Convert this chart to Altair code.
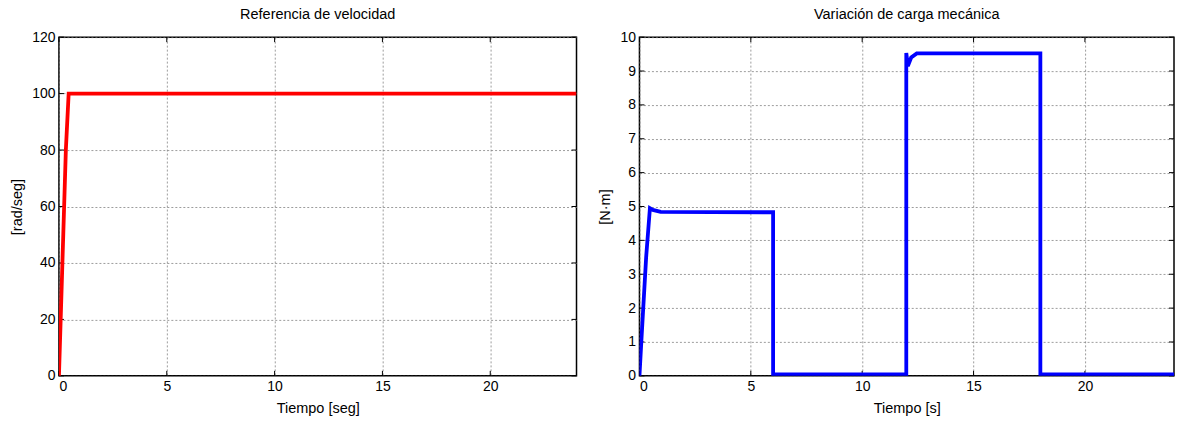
import altair as alt
import pandas as pd

FONT = "Liberation Sans"

# Left panel: speed reference
t_ref = [0, 0.08, 0.2, 0.32, 0.45, 24]
v_ref = [0, 20, 50, 80, 100, 100]

# Right panel: mechanical load
t_load = [0, 0.1, 0.3, 0.47, 0.6, 0.95, 6.0, 6.0, 11.98, 11.98, 12.05, 12.2, 12.45, 18.0, 18.0, 24]
v_load = [0, 1.2, 3.5, 4.95, 4.9, 4.84, 4.83, 0.04, 0.04, 9.53, 9.15, 9.4, 9.52, 9.52, 0.04, 0.04]

x_ticks = [0, 5, 10, 15, 20]
y_ticks_left = [0, 20, 40, 60, 80, 100, 120]
y_ticks_right = [0, 1, 2, 3, 4, 5, 6, 7, 8, 9, 10]

W1, W2, H = 518, 535, 339
TL = 5  # inward tick length


def panel(t, v, color, xmax, ymax, yticks, xtitle, ytitle, title, width):
    df = pd.DataFrame({"t": t, "v": v})
    xs = alt.Scale(domain=[0, xmax], nice=False, zero=False)
    ys = alt.Scale(domain=[0, ymax], nice=False, zero=False)
    xa = alt.Axis(values=x_ticks, tickSize=0, labelPadding=4, titlePadding=8,
                  grid=True, domain=False)
    ya = alt.Axis(values=yticks, tickSize=0, labelPadding=4, titlePadding=7,
                  grid=True, domain=False)
    line = alt.Chart(df).mark_line(color=color, strokeWidth=3.8, clip=True).encode(
        x=alt.X("t:Q", scale=xs, title=xtitle, axis=xa),
        y=alt.Y("v:Q", scale=ys, title=ytitle, axis=ya),
    )
    dx = pd.DataFrame({"t": x_ticks})
    dy = pd.DataFrame({"v": yticks})
    xb = alt.Chart(dx).mark_rule(color="black", strokeWidth=1).encode(
        x=alt.X("t:Q", scale=xs, title=xtitle, axis=xa), y=alt.value(H), y2=alt.value(H - TL))
    xt = alt.Chart(dx).mark_rule(color="black", strokeWidth=1).encode(
        x=alt.X("t:Q", scale=xs, title=xtitle, axis=xa), y=alt.value(0), y2=alt.value(TL))
    yl = alt.Chart(dy).mark_rule(color="black", strokeWidth=1).encode(
        y=alt.Y("v:Q", scale=ys, title=ytitle, axis=ya), x=alt.value(0), x2=alt.value(TL))
    yr = alt.Chart(dy).mark_rule(color="black", strokeWidth=1).encode(
        y=alt.Y("v:Q", scale=ys, title=ytitle, axis=ya), x=alt.value(width), x2=alt.value(width - TL))
    return alt.layer(xb, xt, yl, yr, line).properties(
        width=width, height=H,
        title=alt.TitleParams(title, fontSize=14.5, font=FONT, fontWeight="normal",
                              color="black", offset=8))


left = panel(t_ref, v_ref, "#ff0000", 24, 120, y_ticks_left,
             "Tiempo [seg]", "[rad/seg]", "Referencia de velocidad", W1)
right = panel(t_load, v_load, "#0000ff", 24, 10, y_ticks_right,
              "Tiempo [s]", "[N·m]", "Variación de carga mecánica", W2)

chart = alt.hconcat(left, right, spacing=18).properties(
    padding={"left": 8, "top": 5, "right": 2, "bottom": 2},
    background="white",
).configure_view(
    stroke="black", strokeWidth=1.5
).configure_axis(
    labelFont=FONT, titleFont=FONT, labelFontSize=14, titleFontSize=14.5,
    labelColor="black", titleColor="black", titleFontWeight="normal",
    gridColor="#777777", gridDash=[2, 2], gridWidth=0.8, gridOpacity=0.9,
)

chart.save("out.html", embed_options={"renderer": "svg", "actions": False})
